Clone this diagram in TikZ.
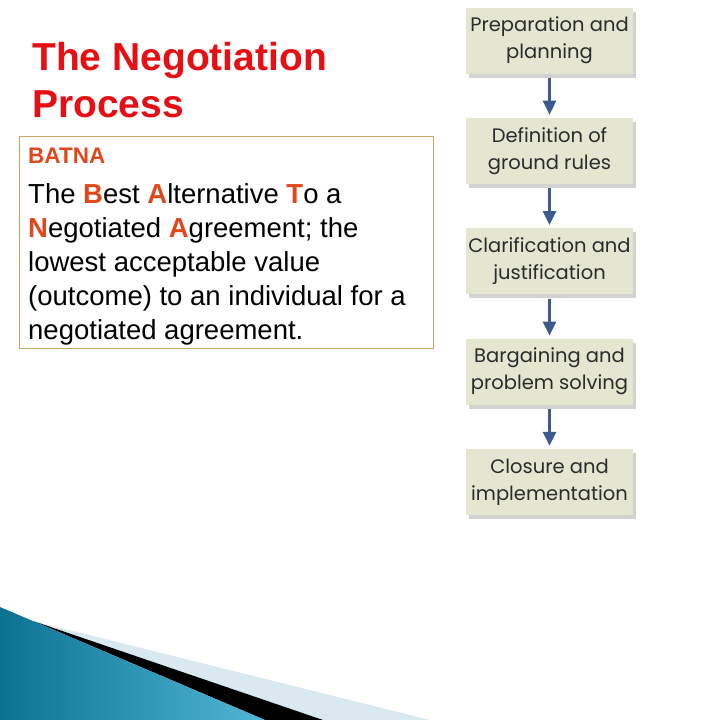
\documentclass[tikz,border=0pt]{standalone}
\usepackage{fontspec}
\setmainfont{Liberation Sans}
\newfontfamily\stagefont{Poppins}
\usetikzlibrary{positioning,shadows,arrows.meta}
\definecolor{titlered}{HTML}{E60F14}
\definecolor{batnared}{HTML}{E2471B}
\definecolor{framebrown}{HTML}{C9A467}
\definecolor{stagefill}{HTML}{E4E6D0}
\definecolor{stagetext}{HTML}{2B2B2B}
\definecolor{flowblue}{HTML}{3B5B8F}
\definecolor{tealdark}{HTML}{0B7391}
\definecolor{teallight}{HTML}{52B6D6}
\definecolor{paleblue}{HTML}{D9E9EF}
\tikzset{
  stage/.style={fill=stagefill, text=stagetext, minimum width=167pt, minimum height=66pt,
    inner sep=0pt, align=center, font=\stagefont\fontsize{19.5}{27}\selectfont,
    drop shadow={shadow xshift=3pt, shadow yshift=-4pt, opacity=0.35}},
  flow/.style={flowblue, line width=2.6pt, -{Triangle[width=13pt,length=14pt]},
    shorten <=4pt, shorten >=3pt}
}
\begin{document}
\begin{tikzpicture}[x=1pt,y=-1pt,node distance=44pt]
\useasboundingbox[fill=white] (0,0) rectangle (720,720);
\fill[paleblue] (33,621) -- (430,720) -- (323,720) -- cycle;
\fill[black] (33,621) -- (323,720) -- (265,720) -- cycle;
\shade[left color=tealdark, right color=teallight] (0,607) -- (265,720) -- (0,720) -- cycle;
\node[anchor=base west, inner sep=0pt, text=titlered,
  font=\bfseries\fontsize{39}{47}\selectfont] (title) at (32,70) {The Negotiation};
\node[anchor=base west, inner sep=0pt, text=titlered,
  font=\bfseries\fontsize{39}{47}\selectfont] (title2) at (32,117) {Process};
\node[draw=framebrown, line width=0.8pt, anchor=north west, minimum width=414pt,
  minimum height=212pt] (batnabox) at (19,136) {};
\node[anchor=base west, inner sep=0pt, text=batnared,
  font=\bfseries\fontsize{22.5}{26}\selectfont] (batna) at (28,163) {BATNA};
\node[anchor=north west, inner sep=0pt, align=left,
  font=\fontsize{27.5}{34}\selectfont] (batnatext) at (28,183)
  {The \textcolor{batnared}{\textbf{B}}est \textcolor{batnared}{\textbf{A}}lternative \textcolor{batnared}{\textbf{T}}o a\\
   \textcolor{batnared}{\textbf{N}}egotiated \textcolor{batnared}{\textbf{A}}greement; the\\
   lowest acceptable value\\
   (outcome) to an individual for a\\
   negotiated agreement.};
\node[stage] (plan) at (549.5,40.5) {Preparation and\\planning};
\node[stage, below=of plan] (rules) {Definition of\\ground rules};
\node[stage, below=of rules] (clarify) {Clarification and\\justification};
\node[stage, below=of clarify] (bargain) {Bargaining and\\problem solving};
\node[stage, below=of bargain] (closure) {Closure and\\implementation};
\draw[flow] (plan) -- (rules);
\draw[flow] (rules) -- (clarify);
\draw[flow] (clarify) -- (bargain);
\draw[flow] (bargain) -- (closure);
\end{tikzpicture}
\end{document}
